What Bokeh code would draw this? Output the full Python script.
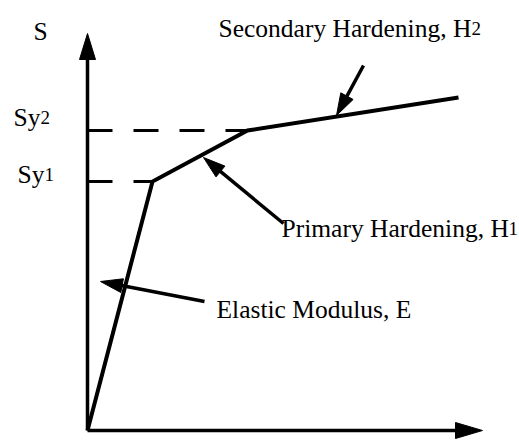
import math
from bokeh.plotting import figure
from bokeh.models import Range1d
from bokeh.core.properties import value
from bokeh.embed import file_html
from bokeh.resources import INLINE

# Schematic stress-strain data (bilinear + secondary hardening)
strain_pts = [0, 65, 160, 371]
stress_pts = [0, 249, 300, 333]
yield_labels = ["Sy1", "Sy2"]
axis_x_end = 395
axis_y_end = 397

W, H = 519, 440
p = figure(width=W, height=H, output_backend="svg", toolbar_location=None,
           x_range=Range1d(-87, W - 87), y_range=Range1d(-(H - 430), 430),
           min_border=0, outline_line_color=None)
p.axis.visible = False
p.grid.visible = False
p.background_fill_color = "white"
p.border_fill_color = "white"

FONT = value("Liberation Serif")
LW = 3.5


def head(tip, tail, length, width):
    dx, dy = tip[0] - tail[0], tip[1] - tail[1]
    d = math.hypot(dx, dy)
    ux, uy = dx / d, dy / d
    bx, by = tip[0] - ux * length, tip[1] - uy * length
    nx, ny = -uy * width / 2, ux * width / 2
    return [tip[0], bx + nx, bx - nx], [tip[1], by + ny, by - ny]


heads_x, heads_y = [], []

# axes
p.line([0, 0], [0, axis_y_end - 20], line_color="black", line_width=LW)
p.line([0, axis_x_end - 20], [0, 0], line_color="black", line_width=LW)
hx, hy = head((0, axis_y_end), (0, 0), 26, 16)
heads_x.append(hx); heads_y.append(hy)
hx, hy = head((axis_x_end, 0), (0, 0), 27, 16)
heads_x.append(hx); heads_y.append(hy)

# dashed yield lines
for i in (1, 2):
    p.line([0, strain_pts[i]], [stress_pts[i], stress_pts[i]], line_color="black",
           line_width=3, line_dash="25 21")

# curve
p.line(strain_pts, stress_pts, line_color="black", line_width=LW + 0.5,
       line_join="miter")

# annotation arrows (tail, tip)
ann = [((276, 365), (249, 315)),
       ((196, 207), (116, 273)),
       ((117, 129), (13, 149))]
for tail, tip in ann:
    hx, hy = head(tip, tail, 22, 14)
    dx, dy = tip[0] - tail[0], tip[1] - tail[1]
    d = math.hypot(dx, dy)
    ex, ey = tip[0] - dx / d * 16, tip[1] - dy / d * 16
    p.line([tail[0], ex], [tail[1], ey], line_color="black", line_width=LW)
    heads_x.append(hx); heads_y.append(hy)

p.patches(heads_x, heads_y, fill_color="black", line_color="black", line_width=1)

# texts
big = dict(text_font=FONT, text_font_size="25.5px", text_color="black",
           text_baseline="alphabetic", text_align="left")
small = dict(text_font=FONT, text_font_size="19px", text_color="black",
             text_baseline="alphabetic", text_align="left")

p.text([-54], [399], text=["S"], **big)
p.text([-74, -70], [stress_pts[2] + 13, stress_pts[1] + 7], text=["Sy", "Sy"], **big)
p.text([-47, -43], [stress_pts[2] + 13, stress_pts[1] + 7],
       text=[yield_labels[1][-1], yield_labels[0][-1]], **small)
p.text([131, 194, 129], [402, 202, 121],
       text=["Secondary Hardening, H", "Primary Hardening, H", "Elastic Modulus, E"], **big)
p.text([384, 421], [402, 202], text=["2", "1"], **small)

open("out.html", "w").write(file_html(p, INLINE))
